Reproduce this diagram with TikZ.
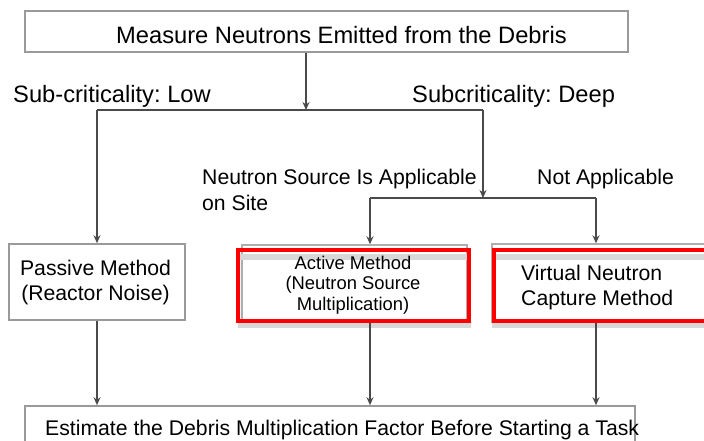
\documentclass[tikz,border=0pt]{standalone}
\usepackage{fontspec}
\setmainfont{Liberation Sans}
\usetikzlibrary{arrows.meta}
\definecolor{boxgray}{HTML}{9A9A9A}
\definecolor{linegray}{HTML}{4A4A4A}
\definecolor{shadowgray}{HTML}{D8D8D8}
\frenchspacing
\begin{document}
\begin{tikzpicture}[x=1pt,y=-1pt,
  box/.style={draw=boxgray, line width=1.6pt, fill=white, inner sep=0pt},
  backbox/.style={draw=boxgray!80, line width=1.4pt, fill=white, inner sep=0pt},
  redbox/.style={draw=red, line width=4pt, inner sep=0pt},
  conn/.style={draw=linegray, line width=1.5pt},
  arr/.style={conn, -{Stealth[length=8pt,width=7pt]}},
  big/.style={font=\fontsize{23.7}{28}\selectfont, inner sep=0pt},
  mid/.style={font=\fontsize{21.2}{25}\selectfont, inner sep=0pt},
  small/.style={font=\fontsize{18.4}{21}\selectfont, inner sep=0pt}]
\useasboundingbox (0,0) rectangle (704,441);
\fill[white] (0,0) rectangle (704,441);

% boxes
\node[box, minimum width=603pt, minimum height=41pt] (top) at (326.5,31.5) {};
\node[big, anchor=base west] (ttop) at (116,44) {Measure Neutrons Emitted from the Debris};

\node[box, minimum width=176pt, minimum height=76pt] (passive) at (97,282) {};
\node[mid, anchor=base] (tp1) at (95.5,275) {Passive Method};
\node[mid, anchor=base] (tp2) at (95.5,300) {(Reactor Noise)};

% active method box with back box and shadow
\fill[shadowgray] (238,322) rectangle (471,328);
\node[backbox, minimum width=225pt, minimum height=77pt] (activeback) at (354.5,283.5) {};
\fill[shadowgray] (240,254) rectangle (467,260);
\node[redbox, minimum width=231pt, minimum height=71pt] (active) at (353.5,285.5) {};
\node[small, anchor=base] (ta1) at (353,269) {Active Method};
\node[small, anchor=base] (ta2) at (353,289) {(Neutron Source};
\node[small, anchor=base] (ta3) at (353,310) {Multiplication)};

% virtual neutron capture box
\fill[shadowgray] (492,322) rectangle (706,328);
\node[backbox, minimum width=214pt, minimum height=78pt] (vncback) at (599,283) {};
\fill[shadowgray] (494,254) rectangle (706,260);
\node[redbox, minimum width=212pt, minimum height=71pt] (vnc) at (600,285.5) {};
\node[mid, anchor=base west] (tv1) at (521,280) {Virtual Neutron};
\node[mid, anchor=base west] (tv2) at (521,305) {Capture Method};

\node[box, minimum width=610pt, minimum height=40pt] (bottom) at (330,426) {};
\node[mid, anchor=base west] (tb) at (45,435) {Estimate the Debris Multiplication Factor Before Starting a Task};

% labels
\node[big, anchor=base west] (llow) at (13,103) {Sub-criticality: Low};
\node[big, anchor=base west] (ldeep) at (412,103) {Subcriticality: Deep};
\node[mid, anchor=base west] (lapp1) at (202,184) {Neutron Source Is Applicable};
\node[mid, anchor=base west] (lapp2) at (202,210) {on Site};
\node[mid, anchor=base west] (lnot) at (537,184) {Not Applicable};

% junctions
\coordinate (j1) at (306,110);
\coordinate (jl) at (97,110);
\coordinate (jr) at (483,110);
\coordinate (j2) at (483,198);
\coordinate (j2l) at (370,198);
\coordinate (j2r) at (596,198);

% connectors
\draw[arr] (top.south -| j1) -- (j1);
\draw[conn] (jl) -- (jr);
\draw[arr] (jl) -- (passive.north);
\draw[arr] (jr) -- (j2);
\draw[conn] (j2l) -- (j2r);
\draw[arr] (j2l) -- (j2l |- activeback.north);
\draw[arr] (j2r) -- (j2r |- vncback.north);
\draw[arr] (passive.south) -- (passive.south |- bottom.north);
\draw[arr] (j2l |- active.south) -- (j2l |- bottom.north);
\draw[arr] (j2r |- vnc.south) -- (j2r |- bottom.north);
\end{tikzpicture}
\end{document}
